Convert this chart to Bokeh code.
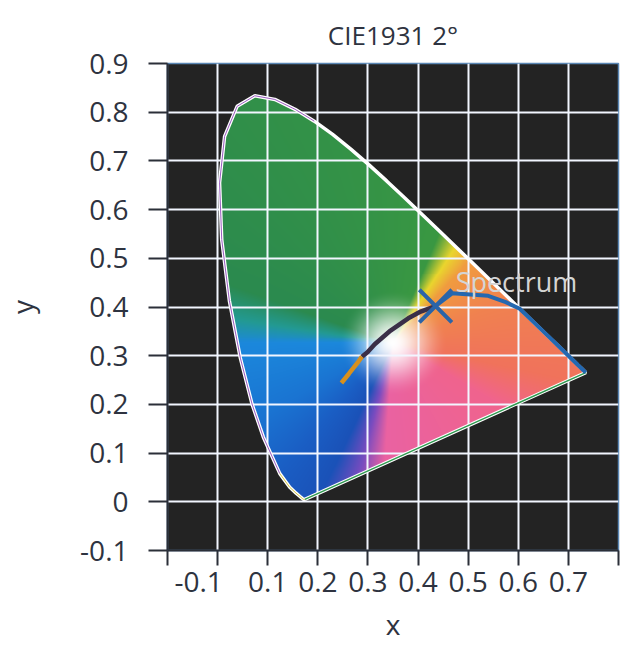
import numpy as np
from bokeh.plotting import figure
from bokeh.models import FixedTicker, Range1d, LinearAxis
from bokeh.core.properties import value
from bokeh.embed import file_html
from bokeh.resources import INLINE

# ---------------- data ----------------
# CIE 1931 2° spectral locus (380..700 nm)
locus_x = [0.1741, 0.1738, 0.1733, 0.1726, 0.1714, 0.1689, 0.1644, 0.1566, 0.1440,
           0.1241, 0.0913, 0.0687, 0.0454, 0.0235, 0.0082, 0.0039, 0.0139, 0.0389,
           0.0743, 0.1142, 0.1547, 0.1929, 0.2296, 0.2658, 0.3016, 0.3373, 0.3731,
           0.4087, 0.4441, 0.4788, 0.5125, 0.5448, 0.5752, 0.6029, 0.6270, 0.6482,
           0.6658, 0.6801, 0.6915, 0.7006, 0.7079, 0.7140, 0.7190, 0.7230, 0.7260,
           0.7300, 0.7320, 0.7347]
locus_y = [0.0050, 0.0049, 0.0048, 0.0048, 0.0051, 0.0069, 0.0109, 0.0177, 0.0297,
           0.0578, 0.1327, 0.2007, 0.2950, 0.4127, 0.5384, 0.6548, 0.7502, 0.8120,
           0.8338, 0.8262, 0.8059, 0.7816, 0.7543, 0.7243, 0.6923, 0.6589, 0.6245,
           0.5896, 0.5547, 0.5202, 0.4866, 0.4544, 0.4242, 0.3965, 0.3725, 0.3514,
           0.3340, 0.3197, 0.3083, 0.2993, 0.2920, 0.2859, 0.2809, 0.2770, 0.2740,
           0.2700, 0.2680, 0.2653]

# Planckian-like locus
planck_x = [0.247, 0.262, 0.281, 0.288, 0.299, 0.3135, 0.3451, 0.3805, 0.4053, 0.435]
planck_y = [0.244, 0.263, 0.288, 0.298, 0.307, 0.3236, 0.3516, 0.3768, 0.3907, 0.402]

# measured point
point_x = [0.435]
point_y = [0.402]

# "Spectrum" trace
spec_x = [0.435, 0.468, 0.540, 0.575, 0.6029, 0.6270, 0.6658, 0.7006, 0.7190, 0.7347]
spec_y = [0.402, 0.428, 0.423, 0.410, 0.3965, 0.3725, 0.3340, 0.2993, 0.2809, 0.2653]

# hue of the gamut fill, by direction (degrees) seen from the white spot
white_xy = (0.35, 0.325)
hue_angles = [-180, -150, -130, -115, -104, -94, -30, -12, 20, 48, 58, 68, 160, 171, 180]
hue_colors = ["#1c88dc", "#1a74d2", "#1a5ec4", "#1a52b8", "#7a4cc0", "#ea62a2", "#f0648e",
              "#f0735c", "#f08250", "#f09c40", "#ead62e", "#3a9842", "#2b8a4f", "#239a92",
              "#1c88dc"]

x_ticks = [-0.1, 0, 0.1, 0.2, 0.3, 0.4, 0.5, 0.6, 0.7, 0.8]
x_tick_labels = ["-0.1", "", "0.1", "0.2", "0.3", "0.4", "0.5", "0.6", "0.7", ""]
y_ticks = [-0.1, 0, 0.1, 0.2, 0.3, 0.4, 0.5, 0.6, 0.7, 0.8, 0.9]
y_tick_labels = ["-0.1", "0", "0.1", "0.2", "0.3", "0.4", "0.5", "0.6", "0.7", "0.8", "0.9"]

FONT = "Open Sans"
TXT = "#2e3340"
TICK_FS = "28px"

p = figure(width=620, height=645, output_backend="svg", toolbar_location=None,
           x_range=Range1d(-0.1, 0.8), y_range=Range1d(-0.1, 0.9),
           min_border_left=167, min_border_right=2, min_border_top=63, min_border_bottom=95,
           title="CIE1931 2°", x_axis_location=None)
p.background_fill_color = "#232323"
p.border_fill_color = "white"
p.outline_line_color = "#5a86b4"
p.outline_line_width = 1.5

p.title.align = "center"
p.title.text_font = FONT
p.title.text_font_size = "26px"
p.title.text_font_style = "normal"
p.title.text_color = TXT
p.title.standoff = 22

# ---------- colour fill of the gamut (image) ----------
lx = np.array(locus_x)
ly = np.array(locus_y)
x0, x1 = lx.min(), lx.max()
y0, y1 = ly.min(), ly.max()
nx, ny = 370, 410
gx = np.linspace(x0, x1, nx)
gy = np.linspace(y0, y1, ny)
GX, GY = np.meshgrid(gx, gy)

def inside(px, py, vx, vy):
    res = np.zeros(px.shape, bool)
    n = len(vx)
    j = n - 1
    for i in range(n):
        xi, yi, xj, yj = vx[i], vy[i], vx[j], vy[j]
        cond = ((yi > py) != (yj > py)) & (px < (xj - xi) * (py - yi) / (yj - yi + 1e-12) + xi)
        res ^= cond
        j = i
    return res

def hex2rgb(h):
    return [int(h[i:i + 2], 16) / 255 for i in (1, 3, 5)]

mask = inside(GX, GY, lx, ly)
dx = GX - white_xy[0]
dy = GY - white_xy[1]
ang = np.degrees(np.arctan2(dy, dx))
dist = np.hypot(dx, dy)
cols = np.array([hex2rgb(c) for c in hue_colors])
chan = [np.interp(ang, hue_angles, cols[:, k]) for k in range(3)]
hue = np.stack(chan, -1)
s = np.clip(dist / 0.11, 0, 1)
s = s * s * (3 - 2 * s)
out = (1 - s[..., None]) * 1.0 + s[..., None] * hue
img = np.zeros((ny, nx, 4), dtype=np.uint8)
img[..., :3] = (np.clip(out, 0, 1) * 255).astype(np.uint8)
img[..., 3] = np.where(mask, 255, 0)
img32 = img.view(dtype=np.uint32).reshape((ny, nx))
p.image_rgba(image=[img32], x=x0, y=y0, dw=x1 - x0, dh=y1 - y0, level="image")

# ---------- grid ----------
p.xgrid.ticker = FixedTicker(ticks=x_ticks)
p.ygrid.ticker = FixedTicker(ticks=y_ticks)
p.grid.grid_line_color = "#f2f6ff"
p.grid.grid_line_width = 2
p.grid.grid_line_alpha = 1

# ---------- locus outline ----------
ox = locus_x + [locus_x[0]]
oy = locus_y + [locus_y[0]]
p.line(ox, oy, line_color="white", line_width=3.5)
p.line(locus_x[9:22], locus_y[9:22], line_color="#9a5cc0", line_width=1)
p.line(locus_x[0:10], locus_y[0:10], line_color="#d8c840", line_width=1)
p.line([locus_x[-1], locus_x[0]], [locus_y[-1], locus_y[0]], line_color="#2f9a50", line_width=1.5)

# ---------- spectrum trace ----------
p.line(spec_x, spec_y, line_color="#2468b0", line_width=4)

# ---------- planckian locus ----------
p.line(planck_x[3:], planck_y[3:], line_color="#3a2f48", line_width=4.5)
p.line(planck_x[:4], planck_y[:4], line_color="#d8901e", line_width=4.5)

# ---------- measured point ----------
p.scatter(point_x, point_y, marker="x", size=46, line_color="#2a64a8", line_width=4)

p.text([0.475], [0.452], text=["Spectrum"], text_font=value(FONT), text_font_size="27px",
       text_color="#d4d4d4", text_baseline="alphabetic", text_align="left")

# ---------- axes ----------
AX_COL = "#2b2f38"

def style(ax):
    ax.major_label_text_font = FONT
    ax.major_label_text_font_size = TICK_FS
    ax.major_label_text_color = TXT
    ax.axis_label_text_font = FONT
    ax.axis_label_text_font_size = "28px"
    ax.axis_label_text_font_style = "normal"
    ax.axis_label_text_color = TXT
    ax.axis_line_color = AX_COL
    ax.axis_line_width = 2
    ax.major_tick_line_color = AX_COL
    ax.major_tick_line_width = 2
    ax.major_tick_in = 0
    ax.minor_tick_line_color = None

# x axis, part 1: tick marks only
xa_ticks = LinearAxis(ticker=FixedTicker(ticks=x_ticks))
style(xa_ticks)
xa_ticks.major_tick_out = 15
xa_ticks.major_label_text_font_size = "0px"
xa_ticks.major_label_standoff = 0
xa_ticks.major_label_overrides = {t: "" for t in x_ticks}
p.add_layout(xa_ticks, "below")

# x axis, part 2: labels (the first label is drawn shifted inside the frame, as in the original)
first_shift = 0.062
x_label_pos = [x_ticks[0] + first_shift] + x_ticks[1:]
xa_labels = LinearAxis(ticker=FixedTicker(ticks=x_label_pos), axis_label="x")
style(xa_labels)
xa_labels.axis_line_color = None
xa_labels.major_tick_out = 0
xa_labels.major_tick_line_color = None
xa_labels.major_label_standoff = 6
xa_labels.axis_label_standoff = 10
xa_labels.major_label_overrides = dict(zip(x_label_pos, x_tick_labels))
p.add_layout(xa_labels, "below")

ya = p.yaxis[0]
style(ya)
ya.ticker = FixedTicker(ticks=y_ticks)
ya.major_label_overrides = dict(zip(y_ticks, y_tick_labels))
ya.axis_label = "y"
ya.major_tick_out = 19
ya.major_label_standoff = 20
ya.axis_label_standoff = 36

open("out.html", "w").write(file_html(p, INLINE))
